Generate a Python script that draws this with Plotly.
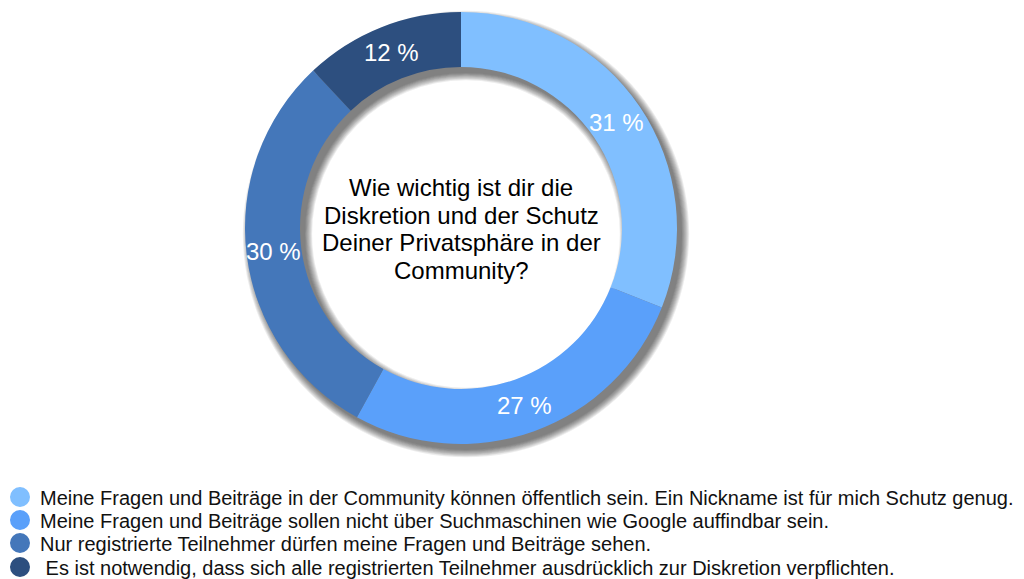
import math
import plotly.graph_objects as go

labels = [
    "Meine Fragen und Beiträge in der Community können öffentlich sein. Ein Nickname ist für mich Schutz genug.",
    "Meine Fragen und Beiträge sollen nicht über Suchmaschinen wie Google auffindbar sein.",
    "Nur registrierte Teilnehmer dürfen meine Fragen und Beiträge sehen.",
    " Es ist notwendig, dass sich alle registrierten Teilnehmer ausdrücklich zur Diskretion verpflichten.",
]
values = [31, 27, 30, 12]
colors = ["#80BFFF", "#5AA0FA", "#4477BA", "#2D4F7F"]
title_lines = [
    "Wie wichtig ist dir die",
    "Diskretion und der Schutz",
    "Deiner Privatsphäre in der",
    "Community?",
]

FONT = "Liberation Sans, Arial, Helvetica, sans-serif"
W, H = 1024, 579
CX, CY, R, RIN = 461, 228, 216, 161


def dom(cx, cy, r):
    return dict(x=[(cx - r) / W, (cx + r) / W], y=[1 - (cy + r) / H, 1 - (cy - r) / H])


fig = go.Figure()

# soft drop shadow behind the ring (offset down-right)
for i in range(9):
    ro = R + i * 0.9
    ri = RIN - i * 0.9
    fig.add_trace(go.Pie(
        values=[1], labels=["shadow"], hole=ri / ro, sort=False,
        marker=dict(colors=["rgba(0,0,0,0.07)"], line=dict(width=0)),
        textinfo="none", hoverinfo="skip", showlegend=False,
        domain=dom(CX + 5, CY + 6, ro),
    ))

fig.add_trace(go.Pie(
    labels=labels,
    values=values,
    hole=RIN / R,
    sort=False,
    direction="clockwise",
    rotation=0,
    marker=dict(colors=colors, line=dict(width=0)),
    textinfo="none",
    showlegend=False,
    hoverinfo="label+percent",
    domain=dom(CX, CY, R),
))

# percentage labels at mid-angle / mid-ring of each slice (derived from values)
total = sum(values)
cum = 0
rmid = (R + RIN) / 2
for v in values:
    ang = 2 * math.pi * (cum + v / 2) / total
    cum += v
    px = CX + rmid * math.sin(ang)
    py = CY - rmid * math.cos(ang)
    fig.add_annotation(
        x=px / W, y=1 - py / H, xref="paper", yref="paper",
        text=f"{v} %", showarrow=False,
        font=dict(size=24, color="white", family=FONT),
        xanchor="center", yanchor="middle",
    )

legend_y = [497, 520, 543, 567]
layout_legends = {}
for k, (lab, col, yc) in enumerate(zip(labels, colors, legend_y)):
    lname = "legend" if k == 0 else f"legend{k + 1}"
    fig.add_trace(go.Scatter(
        x=[None], y=[None], mode="markers", name=lab, legend=lname,
        marker=dict(symbol="circle", size=16, color=col, line=dict(width=4, color=col)),
        showlegend=True,
    ))
    layout_legends[lname] = dict(
        x=0.0, y=1 - yc / H, xanchor="left", yanchor="middle",
        font=dict(size=20, color="#111111", family=FONT),
        itemsizing="trace", bgcolor="rgba(0,0,0,0)",
    )

title_y = [188, 215.5, 243, 270.5]
for line, yc in zip(title_lines, title_y):
    fig.add_annotation(
        x=CX / W, y=1 - yc / H, xref="paper", yref="paper",
        text=line, showarrow=False,
        font=dict(size=24, color="black", family=FONT),
        align="center", xanchor="center", yanchor="middle",
    )

fig.update_layout(
    width=W, height=H,
    margin=dict(l=0, r=0, t=0, b=0, autoexpand=False),
    paper_bgcolor="white", plot_bgcolor="white",
    xaxis=dict(visible=False), yaxis=dict(visible=False),
    font=dict(family=FONT),
    **layout_legends,
)

fig.write_html("out.html")
